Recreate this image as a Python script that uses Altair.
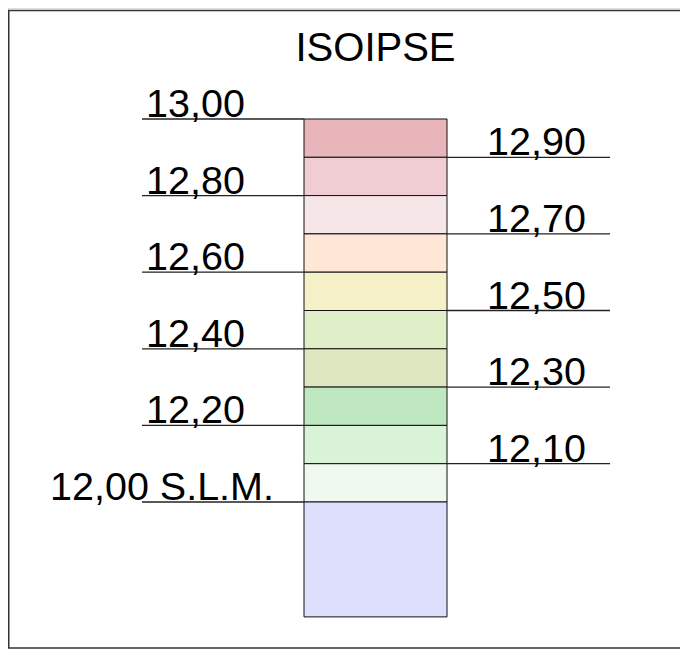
import altair as alt
import pandas as pd

# ---- data ----
title_text = "ISOIPSE"
levels = [13.0, 12.9, 12.8, 12.7, 12.6, 12.5, 12.4, 12.3, 12.2, 12.1, 12.0]
base_level = 11.7
cell_colors = ["#E8B6BA", "#F0CDD2", "#F7E6E7", "#FEE7D6", "#F6F0C8",
               "#E0EFC7", "#DFE7C1", "#BFE7C1", "#D9F3D9", "#F0F9F0", "#DEDFFD"]
left_values = [13.0, 12.8, 12.6, 12.4, 12.2, 12.0]
left_labels = ["13,00", "12,80", "12,60", "12,40", "12,20", "12,00 S.L.M."]
right_values = [12.9, 12.7, 12.5, 12.3, 12.1]
right_labels = ["12,90", "12,70", "12,50", "12,30", "12,10"]

# ---- layout (chart pixel space) ----
W, H = 672, 641
PX_PER_UNIT_X = 143.0      # column width
COL_LEFT = 296.0           # column left edge in chart px
PX_PER_ELEV = 383.0        # px per 1.0 of elevation
TOP_Y = 111.0              # chart y of 13.00

x_dom = [(0 - COL_LEFT) / PX_PER_UNIT_X, (W - COL_LEFT) / PX_PER_UNIT_X]
y_dom = [13.0 - (H - TOP_Y) / PX_PER_ELEV, 13.0 + TOP_Y / PX_PER_ELEV]

xs = alt.Scale(domain=x_dom, nice=False, zero=False)
ys = alt.Scale(domain=y_dom, nice=False, zero=False)
X = lambda f: alt.X(f, type="quantitative", scale=xs, axis=None)
Y = lambda f: alt.Y(f, type="quantitative", scale=ys, axis=None)

bottoms = levels[1:] + [base_level]
cells = pd.DataFrame({"top": levels, "bottom": bottoms, "fill": cell_colors,
                      "x0": 0.0, "x1": 1.0})

left_line_start = (142 - 8 - COL_LEFT) / PX_PER_UNIT_X
right_line_end = (610 - 8 - COL_LEFT) / PX_PER_UNIT_X
left_text_x = (146 - 8 - COL_LEFT) / PX_PER_UNIT_X
slm_text_x = (50 - 8 - COL_LEFT) / PX_PER_UNIT_X
right_text_x = (487 - 8 - COL_LEFT) / PX_PER_UNIT_X

left_df = pd.DataFrame({"v": left_values, "label": left_labels,
                        "xa": left_line_start, "xb": 0.0,
                        "tx": [slm_text_x if "S.L.M." in l else left_text_x for l in left_labels]})
right_df = pd.DataFrame({"v": right_values, "label": right_labels,
                         "xa": 1.0, "xb": right_line_end, "tx": right_text_x})

FONT = "Liberation Sans"
FS = 39.5

rects = alt.Chart(cells).mark_rect(stroke="#111111", strokeWidth=1).encode(
    x=X("x0"), x2="x1", y=Y("top"), y2="bottom",
    color=alt.Color("fill:N", scale=None))

def lines(df):
    return alt.Chart(df).mark_rule(color="#222222", strokeWidth=1.3).encode(
        x=X("xa"), x2="xb", y=Y("v"))

def labels(df):
    return alt.Chart(df).mark_text(align="left", baseline="alphabetic", dy=-2,
                                   font=FONT, fontSize=FS, color="black").encode(
        x=X("tx"), y=Y("v"), text="label:N")

title_df = pd.DataFrame({"t": [title_text], "x": [0.5]})
title = alt.Chart(title_df).mark_text(align="center", baseline="alphabetic",
                                      font=FONT, fontSize=40, color="black").encode(
    x=X("x"), y=alt.value(53), text="t:N")

frame_df = pd.DataFrame({"a": [0]})
frame_top = alt.Chart(frame_df).mark_rule(color="#333333", strokeWidth=1.5).encode(
    x=alt.value(0), x2=alt.value(W), y=alt.value(2.5))
frame_left = alt.Chart(frame_df).mark_rule(color="#333333", strokeWidth=1.5).encode(
    x=alt.value(0.75), y=alt.value(2.5), y2=alt.value(640))
frame_bottom = alt.Chart(frame_df).mark_rule(color="#333333", strokeWidth=1.5).encode(
    x=alt.value(0), x2=alt.value(W), y=alt.value(640))

chart = alt.layer(
    frame_top, frame_left, frame_bottom,
    rects, lines(left_df), lines(right_df), labels(left_df), labels(right_df), title
).properties(
    width=W, height=H, padding=0, autosize=alt.AutoSizeParams(type="none")
).configure_view(stroke=None).configure(background="white")

chart.save("out.html", embed_options={"renderer": "svg", "actions": False})
